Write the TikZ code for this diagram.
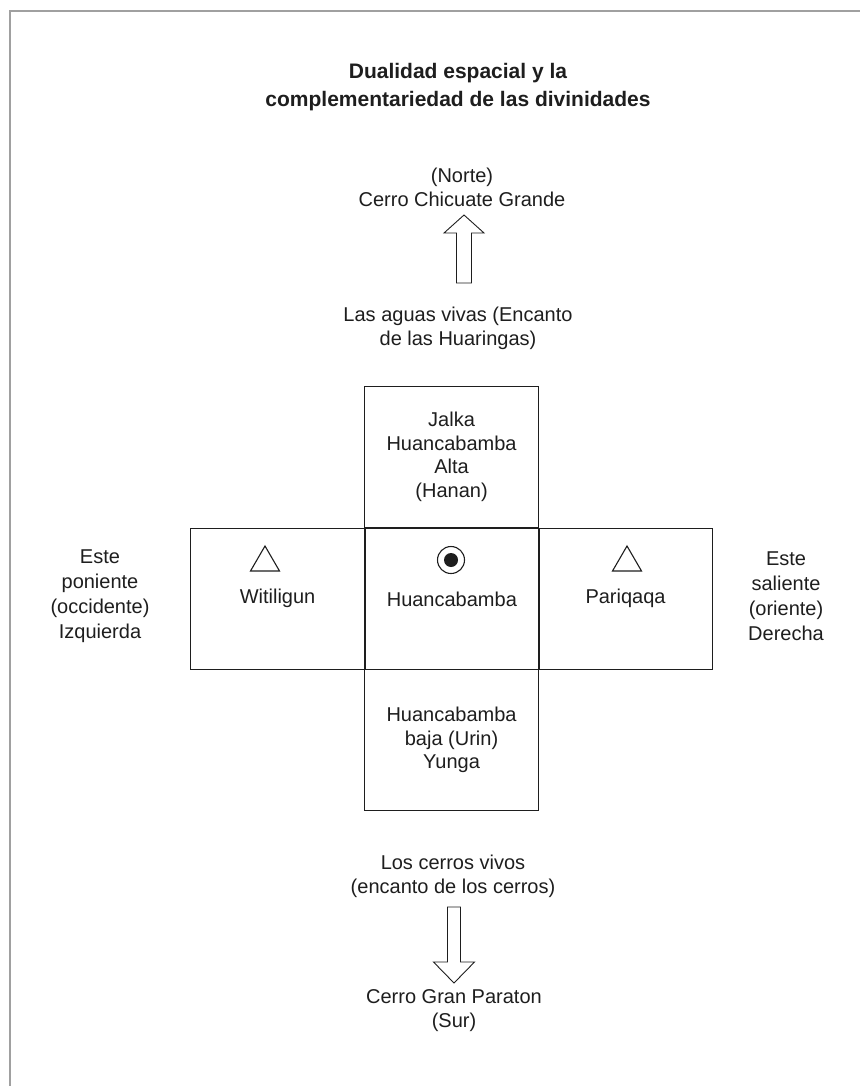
\documentclass[tikz,border=0pt]{standalone}
\usepackage{fontspec}
\setmainfont{Liberation Sans}
\definecolor{frame}{HTML}{A0A0A0}
\definecolor{ink}{HTML}{1E1E1E}
\begin{document}
\begin{tikzpicture}[x=1pt,y=-1pt,
  txt/.style={font=\fontsize{20}{24}\selectfont, text=ink, align=center, inner sep=0pt},
  ttl/.style={font=\fontsize{21}{28}\selectfont\bfseries, text=ink, align=center, inner sep=0pt},
  cell/.style={draw=ink, line width=1.1pt, minimum width=174pt, minimum height=141pt, inner sep=0pt,
    font=\fontsize{20}{23.5}\selectfont, text=ink, align=center},
  core/.style={cell, line width=1.7pt},
  blockarrow/.style={draw=ink, line width=0.9pt, fill=white, line join=miter},
  sym/.style={draw=ink, line width=1.1pt, line join=miter}]
\useasboundingbox (0,0) rectangle (860,1086);
\fill[white] (0,0) rectangle (860,1086);
% frame
\draw[frame, line width=2pt] (9.5,1086) -- (9.5,11) -- (860,11);
% title
\node[ttl] (title) at (458,87) {Dualidad espacial y la\\complementariedad de las divinidades};
% north
\node[txt] (norte) at (462,187) {(Norte)\\Cerro Chicuate Grande};
\coordinate (uptip) at (464,215);
\draw[blockarrow] (uptip) -- ++(20,18) -- ++(-12.5,0) -- ++(0,50) -- ++(-15,0) -- ++(0,-50) -- ++(-12.5,0) -- cycle;
\node[txt] (aguas) at (458,328.5) {Las aguas vivas (Encanto\\de las Huaringas)};
% boxes
\node[cell, anchor=north west] (hanan) at (364,386) {Jalka\\Huancabamba\\Alta\\(Hanan)};
\node[cell, anchor=north west] (witi) at (190,527.5) {Witiligun};
\node[cell, anchor=north west] (pari) at (538,527.5) {Pariqaqa};
\node[cell, anchor=north west] (urin) at (364,669) {Huancabamba\\baja (Urin)\\Yunga};
\node[core, anchor=north west] (huanc) at (364,527.5) {Huancabamba};
% symbols
\draw[sym] (265,546) -- (279.5,571) -- (250.5,571) -- cycle;
\draw[sym] (627,546) -- (641.5,571) -- (612.5,571) -- cycle;
\draw[sym] (451,560) circle[radius=13.5];
\fill[ink] (451,560) circle[radius=7];
% side labels
\node[txt, font=\fontsize{20}{25}\selectfont] (oeste) at (100,596) {Este\\poniente\\(occidente)\\Izquierda};
\node[txt, font=\fontsize{20}{25}\selectfont] (este) at (786,596) {Este\\saliente\\(oriente)\\Derecha};
% south
\node[txt] (cerros) at (453,876) {Los cerros vivos\\(encanto de los cerros)};
\coordinate (downtip) at (454,983);
\draw[blockarrow] (downtip) -- ++(20.5,-21) -- ++(-14,0) -- ++(0,-55) -- ++(-13,0) -- ++(0,55) -- ++(-14,0) -- cycle;
\node[txt] (sur) at (454,1011) {Cerro Gran Paraton\\(Sur)};
\end{tikzpicture}
\end{document}
